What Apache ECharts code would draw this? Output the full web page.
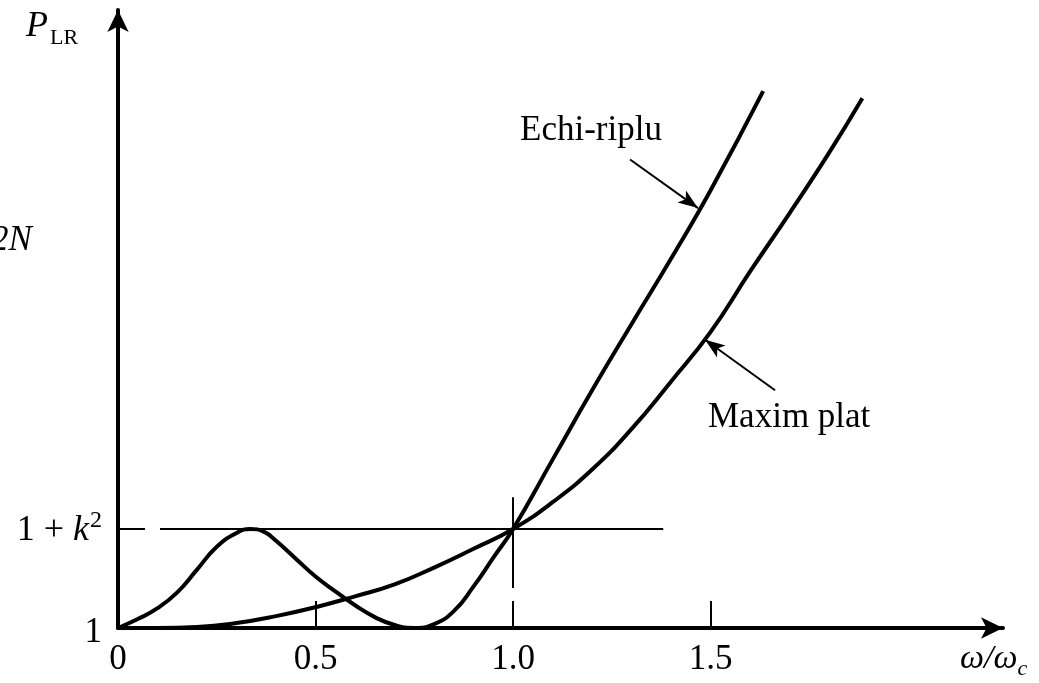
<!DOCTYPE html>
<html>
<head>
<meta charset="utf-8">
<script src="https://cdn.jsdelivr.net/npm/echarts@6/dist/echarts.min.js"></script>
<style>
html,body{margin:0;padding:0;background:#fff;}
#main{width:1039px;height:683px;}
</style>
</head>
<body>
<div id="main"></div>
<script>
// ---- data ----
const xTickLabels = [0, 0.5, 1.0, 1.5];
const xTickMarks = [0.5, 1.5];
const yTickLabels = [1, 2];           // 1 and 1 + k^2 (k^2 taken as 1)
const levelY = 2;                     // 1 + k^2
const cutoffX = 1.0;                  // omega / omega_c = 1

const rippleX = [0, 0.05, 0.10, 0.15, 0.20, 0.25, 0.30, 0.335, 0.37, 0.40, 0.45, 0.50, 0.55, 0.60, 0.65, 0.70, 0.75, 0.80, 0.85, 0.90, 0.95, 1.0, 1.1, 1.2, 1.3, 1.4, 1.5, 1.633];
const rippleY = [1.0, 1.09, 1.20, 1.36, 1.59, 1.82, 1.96, 2.0, 1.97, 1.88, 1.70, 1.52, 1.37, 1.23, 1.11, 1.03, 1.0, 1.04, 1.17, 1.42, 1.71, 2.0, 2.70, 3.40, 4.07, 4.73, 5.42, 6.42];

const flatX = [0, 0.1, 0.2, 0.3, 0.4, 0.5, 0.6, 0.7, 0.8, 0.9, 1.0, 1.1, 1.2, 1.3, 1.4, 1.5, 1.6, 1.7, 1.8, 1.884];
const flatY = [1.0, 1.0, 1.01, 1.05, 1.12, 1.21, 1.32, 1.44, 1.61, 1.80, 2.0, 2.27, 2.60, 3.01, 3.49, 3.99, 4.60, 5.19, 5.80, 6.35];

const levelLineEnd = 1.38;
const cutoffLineTop = 2.32;
const rippleArrow = [[1.296, 5.73], [1.468, 5.24]];
const flatArrow = [[1.663, 3.40], [1.486, 3.91]];

const serif = '"Liberation Serif", "DejaVu Serif", serif';

function pairs(xs, ys){ return xs.map((x,i)=>[x, ys[i]]); }

const chart = echarts.init(document.getElementById('main'), null, {renderer:'canvas'});
chart.setOption({
  animation: false,
  backgroundColor: '#fff',
  grid: {left: 118, right: 36, top: 10, bottom: 55, containLabel: false},
  xAxis: {
    type: 'value', min: 0, max: 2.24,
    splitLine: {show: false},
    axisLine: {show: true, onZero: false, symbol: ['none','arrow'], symbolSize: [16, 22],
      lineStyle: {color: '#000', width: 4}},
    axisTick: {show: true, inside: true, length: 27, customValues: xTickMarks,
      lineStyle: {color: '#000', width: 2}},
    axisLabel: {show: true, customValues: xTickLabels, margin: 14, color: '#000',
      fontFamily: serif, fontSize: 35,
      formatter: v => (v === 1 ? '1.0' : String(v))}
  },
  yAxis: {
    type: 'value', min: 1, max: 7.24,
    splitLine: {show: false},
    axisLine: {show: true, onZero: false, symbol: ['none','arrow'], symbolSize: [16, 22],
      lineStyle: {color: '#000', width: 4}},
    axisTick: {show: false},
    axisLabel: {show: true, customValues: yTickLabels, margin: 16, color: '#000',
      fontFamily: serif, fontSize: 35,
      formatter: v => (v === 1 ? '{one|1}' : '{n|1 + }{k|k}{s|2}'),
      rich: {
        one: {fontFamily: serif, fontSize: 35, color: '#000', padding: [10,0,0,0]},
        n: {fontFamily: serif, fontSize: 36, color: '#000', lineHeight: 40, verticalAlign: 'bottom'},
        k: {fontFamily: serif, fontSize: 36, fontStyle: 'italic', color: '#000', lineHeight: 40, verticalAlign: 'bottom'},
        s: {fontFamily: serif, fontSize: 24, color: '#000', verticalAlign: 'top', lineHeight: 40, padding: [0,0,0,1]}
      }}
  },
  series: [
    {
      name: 'Echi-riplu', type: 'line', smooth: 0.5, showSymbol: false,
      data: pairs(rippleX, rippleY),
      lineStyle: {color: '#000', width: 4},
      markLine: {
        silent: true, animation: false, label: {show: false},
        data: [
          [{coord: [0, levelY], symbol: 'none', lineStyle: {color:'#000', width: 2, type: [27, 15, 2000]}},
           {coord: [levelLineEnd, levelY], symbol: 'none'}],
          [{coord: [cutoffX, 1], symbol: 'none', lineStyle: {color:'#000', width: 2, type: [27, 13, 2000]}},
           {coord: [cutoffX, cutoffLineTop], symbol: 'none'}],
          [{coord: rippleArrow[0], symbol: 'none', lineStyle: {color:'#000', width: 2, type: 'solid'}},
           {coord: rippleArrow[1], symbol: 'arrow', symbolSize: [11, 20]}],
          [{coord: flatArrow[0], symbol: 'none', lineStyle: {color:'#000', width: 2, type: 'solid'}},
           {coord: flatArrow[1], symbol: 'arrow', symbolSize: [11, 20]}]
        ]
      }
    },
    {
      name: 'Maxim plat', type: 'line', smooth: 0.5, showSymbol: false,
      data: pairs(flatX, flatY),
      lineStyle: {color: '#000', width: 4}
    }
  ],
  graphic: [
    {type: 'text', left: 520, top: 113, style: {text: 'Echi-riplu', fill: '#000', font: '35px ' + serif}},
    {type: 'text', left: 708, top: 400, style: {text: 'Maxim plat', fill: '#000', font: '35px ' + serif}},
    {type: 'text', left: 26, top: 9, style: {text: '{p|P}{s|LR}', rich: {
      p: {fontFamily: serif, fontSize: 36, fontStyle: 'italic', color: '#000', verticalAlign: 'top'},
      s: {fontFamily: serif, fontSize: 22, color: '#000', verticalAlign: 'bottom', padding: [18,0,0,2]}
    }}},
    {type: 'text', left: -9, top: 223, style: {text: '2N', fill: '#000', font: 'italic 35px ' + serif}},
    {type: 'text', left: 960, top: 642, style: {text: '{a|ω/ω}{b|c}', rich: {
      a: {fontFamily: serif, fontSize: 34, fontStyle: 'italic', color: '#000', verticalAlign: 'top'},
      b: {fontFamily: serif, fontSize: 22, fontStyle: 'italic', color: '#000', verticalAlign: 'bottom', padding: [16,0,0,0]}
    }}}
  ]
});
</script>
</body>
</html>
